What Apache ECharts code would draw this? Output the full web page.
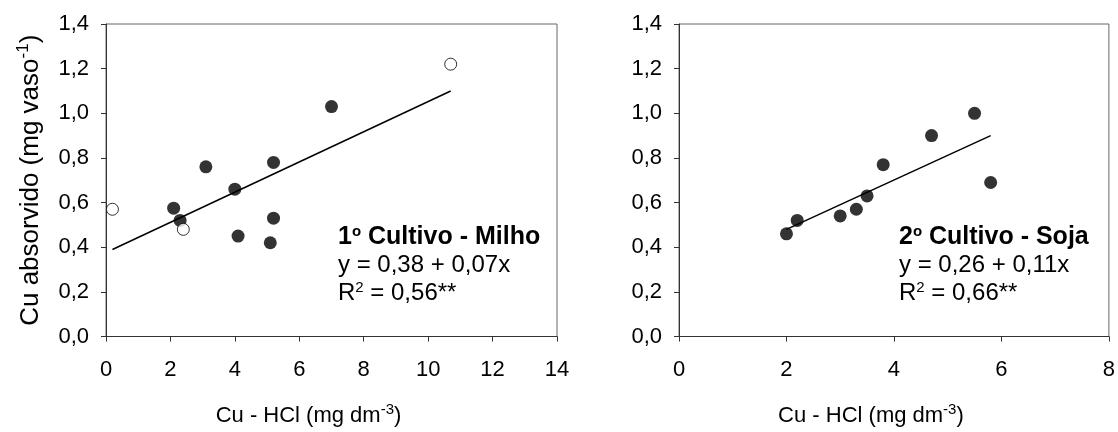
<!DOCTYPE html>
<html>
<head>
<meta charset="utf-8">
<script src="https://cdn.jsdelivr.net/npm/echarts@6/dist/echarts.min.js"></script>
<style>
html,body{margin:0;padding:0;background:#fff;}
#c{width:1118px;height:432px;}
</style>
</head>
<body>
<div id="c"></div>
<script>
// ---- Data ----
// Left panel: 1º Cultivo - Milho
const milhoFilled = [[2.1,0.575],[2.3,0.52],[3.1,0.76],[4.0,0.66],[4.1,0.45],[5.2,0.78],[5.2,0.53],[5.1,0.42],[7.0,1.03]];
const milhoOpen = [[0.2,0.57],[2.4,0.48],[10.7,1.22]];
const milhoFit = [[0.2,0.39],[10.7,1.10]];
// Right panel: 2º Cultivo - Soja
const sojaFilled = [[2.0,0.46],[2.2,0.52],[3.0,0.54],[3.3,0.57],[3.5,0.63],[3.8,0.77],[4.7,0.90],[5.5,1.00],[5.8,0.69]];
const sojaFit = [[2.0,0.48],[5.8,0.90]];
// Axis ranges
const yRange = [0, 1.4, 0.2];
const xRangeLeft = [0, 14, 2];
const xRangeRight = [0, 8, 2];
// Texts
const yTitle = 'Cu absorvido (mg vaso{sup|-1})';
const xTitle = 'Cu - HCl (mg dm{sup|-3})';
const leftText = ['{b|1}{bsup|o}{b| Cultivo - Milho}', 'y = 0,38 + 0,07x', 'R{sup|2} = 0,56**'];
const rightText = ['{b|2}{bsup|o}{b| Cultivo - Soja}', 'y = 0,26 + 0,11x', 'R{sup|2} = 0,66**'];

const FONT = '"Liberation Sans", Arial, sans-serif';
const chart = echarts.init(document.getElementById('c'), null, {renderer:'canvas'});

const grids = [
  {left:106, top:24, width:451, height:319},
  {left:679, top:24, width:432, height:319}
];

function xAxis(idx, r) {
  return {
    type:'value', gridIndex:idx, min:r[0], max:r[1], interval:r[2],
    axisLine:{show:true, lineStyle:{color:'#333', width:1}},
    axisTick:{show:true, length:5, lineStyle:{color:'#333'}},
    splitLine:{show:false},
    axisLabel:{color:'#000', fontSize:22, fontFamily:FONT, margin:22},
    name: xTitle, nameLocation:'middle', nameGap:66,
    nameTextStyle:{color:'#000', fontSize:22, fontFamily:FONT, padding:[0,46,0,0],
      rich:{sup:{fontSize:15, verticalAlign:'bottom', padding:[0,0,12,0], fontFamily:FONT, color:'#000'}}}
  };
}
function yAxis(idx, withName) {
  const a = {
    type:'value', gridIndex:idx, min:yRange[0], max:yRange[1], interval:yRange[2],
    axisLine:{show:true, lineStyle:{color:'#333', width:1}},
    axisTick:{show:true, length:5, lineStyle:{color:'#333'}},
    splitLine:{show:false},
    axisLabel:{color:'#000', fontSize:22, fontFamily:FONT, margin:17,
      formatter: v => v.toFixed(1).replace('.', ',')}
  };
  if (withName) {
    a.name = yTitle; a.nameLocation = 'middle'; a.nameGap = 60;
    a.nameTextStyle = {color:'#000', fontSize:26, fontFamily:FONT,
      rich:{sup:{fontSize:17, verticalAlign:'bottom', padding:[0,0,14,0], fontFamily:FONT, color:'#000'}}};
  }
  return a;
}

function fixRich(t) {
  // wrap plain segments into {n|...}
  const parts = [];
  let re = /\{(\w+)\|([^}]*)\}/g, last = 0, m;
  while ((m = re.exec(t)) !== null) {
    if (m.index > last) parts.push('{n|' + t.slice(last, m.index) + '}');
    parts.push(m[0]);
    last = re.lastIndex;
  }
  if (last < t.length) parts.push('{n|' + t.slice(last) + '}');
  return parts.join('');
}

function annot(lines, left, top) {
  const rich = {
    b:{fontSize:25, fontWeight:'bold', fontFamily:FONT, color:'#000'},
    bsup:{fontSize:15, fontWeight:'bold', fontFamily:FONT, color:'#000', verticalAlign:'bottom', padding:[0,0,12,0]},
    n:{fontSize:24, fontFamily:FONT, color:'#000'},
    sup:{fontSize:15, fontFamily:FONT, color:'#000', verticalAlign:'bottom', padding:[0,0,12,0]}
  };
  return [{
    type:'text', left:left, top:top,
    style:{text: lines.map(fixRich).join('\n'), rich:rich, fill:'#000', lineHeight:28}
  }];
}

const option = {
  animation:false,
  backgroundColor:'#fff',
  grid: grids.map(g => Object.assign({show:true, borderColor:'#666', borderWidth:1, containLabel:false}, g)),
  xAxis: [xAxis(0, xRangeLeft), xAxis(1, xRangeRight)],
  yAxis: [yAxis(0, true), yAxis(1, false)],
  series: [
    {type:'line', xAxisIndex:0, yAxisIndex:0, data:milhoFit, symbol:'none', lineStyle:{color:'#000', width:1.5}, z:1},
    {type:'scatter', xAxisIndex:0, yAxisIndex:0, data:milhoFilled, symbol:'circle', symbolSize:13,
      itemStyle:{color:'#000'}, z:3},
    {type:'scatter', xAxisIndex:0, yAxisIndex:0, data:milhoOpen, symbol:'circle', symbolSize:12,
      itemStyle:{color:'#fff', borderColor:'#000', borderWidth:1}, z:3},
    {type:'line', xAxisIndex:1, yAxisIndex:1, data:sojaFit, symbol:'none', lineStyle:{color:'#000', width:1.5}, z:1},
    {type:'scatter', xAxisIndex:1, yAxisIndex:1, data:sojaFilled, symbol:'circle', symbolSize:13,
      itemStyle:{color:'#000'}, z:3}
  ],
  graphic: [].concat(annot(leftText, 338, 223), annot(rightText, 899, 223))
};
chart.setOption(option);
</script>
</body>
</html>
